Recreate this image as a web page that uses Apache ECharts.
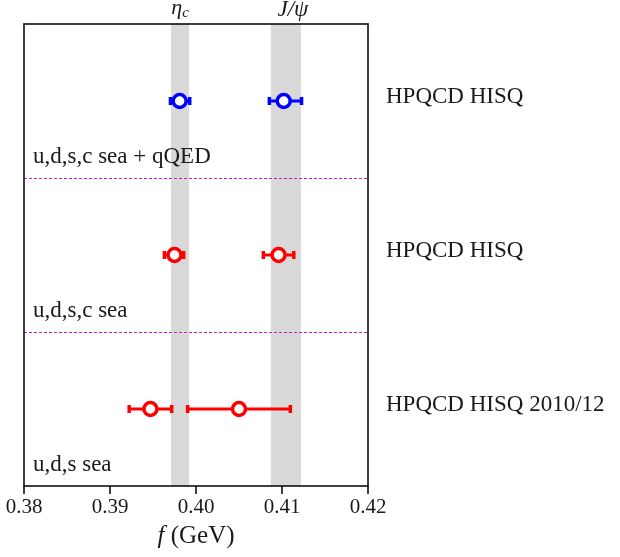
<!DOCTYPE html>
<html>
<head>
<meta charset="utf-8">
<script src="https://cdn.jsdelivr.net/npm/echarts@6/dist/echarts.min.js"></script>
<style>html,body{margin:0;padding:0;background:#fff}#c{width:620px;height:557px}</style>
</head>
<body>
<div id="c"></div>
<script>
// ---- data ----
const rowLabels = ['u,d,s,c sea + qQED', 'u,d,s,c sea', 'u,d,s sea'];
const refLabels = ['HPQCD HISQ', 'HPQCD HISQ', 'HPQCD HISQ 2010/12'];
const rowY = [2.5, 1.5, 0.5];
const rowBottom = [2, 1, 0];
const separators = [1, 2];
const rowColors = ['#0000ff', '#ff0000', '#ff0000'];
const etacVal = [0.3981, 0.3975, 0.3947];
const etacLo  = [0.3970, 0.3963, 0.3922];
const etacHi  = [0.3993, 0.3986, 0.3972];
const jpsiVal = [0.4102, 0.4096, 0.4050];
const jpsiLo  = [0.4085, 0.4078, 0.3990];
const jpsiHi  = [0.4123, 0.4114, 0.4110];
const etacBand = [0.3971, 0.3992];
const jpsiBand = [0.4087, 0.4122];
const xMin = 0.38, xMax = 0.42, xStep = 0.01;

const serif = '"Liberation Serif", "DejaVu Serif", serif';
const ink = '#1a1a1a';

const errData = [];
for (let i = 0; i < rowY.length; i++) {
  errData.push([etacLo[i], etacHi[i], etacVal[i], rowY[i], i]);
  errData.push([jpsiLo[i], jpsiHi[i], jpsiVal[i], rowY[i], i]);
}

const frameLine = { show: true, onZero: false, lineStyle: { color: '#000', width: 1.5 } };

const chart = echarts.init(document.getElementById('c'));
chart.setOption({
  animation: false,
  grid: { left: 24, right: 252, top: 24, bottom: 71 },
  xAxis: [{
    type: 'value', min: xMin, max: xMax, interval: xStep, position: 'bottom', z: 10,
    axisLine: frameLine,
    axisTick: { show: true, inside: false, length: 8, lineStyle: { color: '#000', width: 1.5 } },
    splitLine: { show: false },
    axisLabel: { margin: 11, fontFamily: serif, fontSize: 21, color: ink, formatter: v => v.toFixed(2) },
    name: '{i|f} (GeV)', nameLocation: 'middle', nameGap: 38,
    nameTextStyle: { fontFamily: serif, fontSize: 25, color: ink,
      rich: { i: { fontStyle: 'italic', fontFamily: serif, fontSize: 25, color: ink } } }
  }, {
    type: 'value', min: xMin, max: xMax, interval: xStep, position: 'top', z: 10,
    axisLine: frameLine,
    axisTick: { show: false }, axisLabel: { show: false }, splitLine: { show: false }
  }],
  yAxis: [{
    type: 'value', min: 0, max: 3, position: 'left', z: 10,
    axisLine: frameLine,
    axisTick: { show: false }, axisLabel: { show: false }, splitLine: { show: false }
  }, {
    type: 'value', min: 0, max: 3, position: 'right', z: 10,
    axisLine: frameLine,
    axisTick: { show: false }, axisLabel: { show: false }, splitLine: { show: false }
  }],
  series: [{
    type: 'line', data: [], z: 1, silent: true,
    markArea: {
      silent: true,
      itemStyle: { color: '#d9d9d9' },
      label: { show: true, position: 'top', distance: 3, fontFamily: serif, fontSize: 22, color: ink },
      data: [
        [{ xAxis: etacBand[0],
           label: { formatter: '{i|η}{s|c}', rich: {
             i: { fontStyle: 'italic', fontFamily: serif, fontSize: 22, color: ink },
             s: { fontStyle: 'italic', fontFamily: serif, fontSize: 15, color: ink, padding: [10, 0, 0, 0] } } } },
         { xAxis: etacBand[1] }],
        [{ xAxis: jpsiBand[0],
           label: { offset: [7, 0], formatter: '{i|J/ψ}', rich: {
             i: { fontStyle: 'italic', fontFamily: serif, fontSize: 23, color: ink } } } },
         { xAxis: jpsiBand[1] }]
      ]
    },
    markLine: {
      silent: true, symbol: 'none', label: { show: false },
      lineStyle: { color: '#c020c0', type: [3, 2], width: 1 },
      data: separators.map(v => ({ yAxis: v }))
    }
  }, {
    type: 'custom', z: 5, clip: false,
    data: errData,
    renderItem: function (params, api) {
      const lo = api.coord([api.value(0), api.value(3)]);
      const hi = api.coord([api.value(1), api.value(3)]);
      const c = api.coord([api.value(2), api.value(3)]);
      const col = rowColors[api.value(4)];
      return {
        type: 'group',
        children: [
          { type: 'line', shape: { x1: lo[0], y1: lo[1], x2: hi[0], y2: hi[1] }, style: { stroke: col, lineWidth: 3 } },
          { type: 'rect', shape: { x: lo[0] - 1.5, y: lo[1] - 4, width: 3.5, height: 8 }, style: { fill: col } },
          { type: 'rect', shape: { x: hi[0] - 2, y: hi[1] - 4, width: 3.5, height: 8 }, style: { fill: col } },
          { type: 'circle', shape: { cx: c[0], cy: c[1], r: 6.5 }, style: { fill: '#fff', stroke: col, lineWidth: 3.5 } }
        ]
      };
    }
  }, {
    type: 'custom', z: 6, clip: false,
    data: rowBottom.map((b, i) => [xMin, b, i]),
    renderItem: function (params, api) {
      const p = api.coord([api.value(0), api.value(1)]);
      return { type: 'text', style: { x: p[0] + 9, y: p[1] - 21, text: rowLabels[api.value(2)],
        fontFamily: serif, fontSize: 23, fill: ink, verticalAlign: 'middle', align: 'left' } };
    }
  }, {
    type: 'custom', z: 6, clip: false,
    data: rowY.map((y, i) => [xMax, y, i]),
    renderItem: function (params, api) {
      const p = api.coord([api.value(0), api.value(1)]);
      return { type: 'text', style: { x: p[0] + 18, y: p[1] - 4, text: refLabels[api.value(2)],
        fontFamily: serif, fontSize: 23, fill: ink, verticalAlign: 'middle', align: 'left' } };
    }
  }]
});
</script>
</body>
</html>
